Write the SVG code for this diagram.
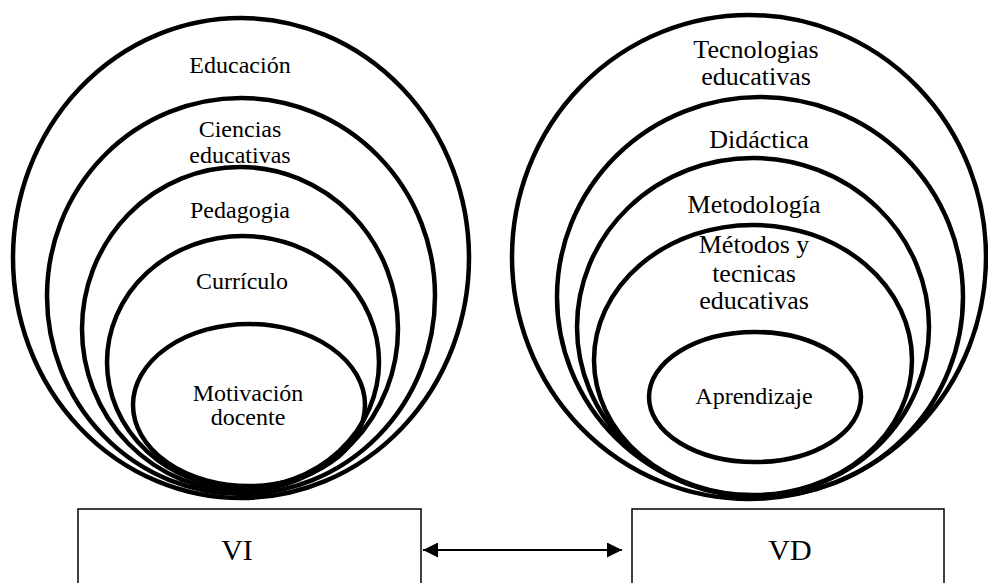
<svg xmlns="http://www.w3.org/2000/svg" width="988" height="583" viewBox="0 0 988 583">
<style>
.e{fill:none;stroke:#000;stroke-width:4.5}
.b{fill:#fff;stroke:#000;stroke-width:1.5}
text{fill:#000;text-anchor:middle}
.l{font-size:24px}
.r{font-size:26px}
.v{font-size:30px}
.c{stroke:#000;stroke-width:2;fill:none}
</style>
<defs>
<marker id="ah" viewBox="0 0 15 15" refX="15" refY="7.5" markerWidth="15" markerHeight="15" markerUnits="userSpaceOnUse" orient="auto-start-reverse">
<path d="M0,0 L15,7.5 L0,15 Z" fill="#000"/>
</marker>
</defs>
<rect width="988" height="583" fill="#fff"/>
<g font-family="Liberation Serif, DejaVu Serif, serif">
<g id="educacion"><ellipse class="e" cx="241" cy="258" rx="228" ry="240"/><text class="l" x="240" y="73">Educación</text></g>
<g id="ciencias"><ellipse class="e" cx="241" cy="296" rx="194" ry="198"/><text class="l" x="240" y="137">Ciencias</text><text class="l" x="240" y="163">educativas</text></g>
<g id="pedagogia"><ellipse class="e" cx="240" cy="329" rx="158" ry="162"/><text class="l" x="240" y="218">Pedagogia</text></g>
<g id="curriculo"><ellipse class="e" cx="243" cy="362" rx="136" ry="126"/><text class="l" x="242" y="289">Currículo</text></g>
<g id="motivacion"><ellipse class="e" cx="249" cy="405" rx="116" ry="81"/><text class="l" x="248" y="401">Motivación</text><text class="l" x="248" y="425">docente</text></g>
<g id="tecnologias"><ellipse class="e" cx="749" cy="257" rx="237" ry="242"/><text class="r" x="756" y="58">Tecnologias</text><text class="r" x="756" y="85">educativas</text></g>
<g id="didactica"><ellipse class="e" cx="760" cy="297" rx="203" ry="200"/><text class="r" x="759" y="148">Didáctica</text></g>
<g id="metodologia"><ellipse class="e" cx="753" cy="327" rx="176" ry="169"/><text class="r" x="754" y="213">Metodología</text></g>
<g id="metodos"><ellipse class="e" cx="753" cy="360" rx="159" ry="135"/><text class="r" x="754" y="253">Métodos y</text><text class="r" x="754" y="282">tecnicas</text><text class="r" x="754" y="309">educativas</text></g>
<g id="aprendizaje"><ellipse class="e" cx="755" cy="397" rx="106" ry="65"/><text class="l" x="754" y="404">Aprendizaje</text></g>
<g id="vi"><rect class="b" x="78" y="509" width="343" height="90"/><text class="v" x="237" y="560">VI</text></g>
<g id="vd"><rect class="b" x="632" y="509" width="312" height="90"/><text class="v" x="790" y="560">VD</text></g>
</g>
<g id="connectors"><line class="c" x1="423" y1="550" x2="622" y2="550" marker-start="url(#ah)" marker-end="url(#ah)"/></g>
</svg>
